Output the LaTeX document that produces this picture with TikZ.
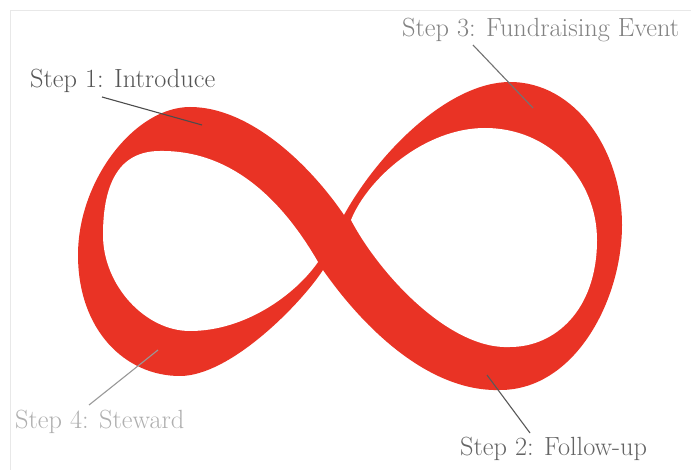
\documentclass[tikz,border=0pt]{standalone}
\usepackage{fontspec}
\setmainfont{Latin Modern Roman}
\definecolor{ribbon}{RGB}{233,51,37}
\definecolor{framegray}{RGB}{232,232,232}
\definecolor{txtA}{RGB}{85,85,85}
\definecolor{txtB}{RGB}{130,130,130}
\definecolor{txtC}{RGB}{175,175,175}
\definecolor{txtD}{RGB}{100,100,100}
\begin{document}
\begin{tikzpicture}[x=1pt,y=-1pt,
  lbl/.style={font=\fontsize{26.3}{30}\selectfont, anchor=base west, inner sep=0pt},
  lead/.style={line width=1.1pt}]
\useasboundingbox (0,0) rectangle (691,470);
\fill[white] (0,0) rectangle (691,470);
\draw[framegray, line width=0.9pt] (10,470) -- (10,10) -- (691,10);
% ribbon silhouette
\fill[ribbon] (344,215)
  .. controls (310,165) and (250,107) .. (190,107)
  .. controls (135,107) and (78,180) .. (78,255)
  .. controls (78,330) and (125,376) .. (180,376)
  .. controls (230,376) and (300,305) .. (323,270)
  .. controls (365,330) and (430,392) .. (500,390)
  .. controls (575,390) and (622,300) .. (622,225)
  .. controls (622,150) and (575,82) .. (510,82)
  .. controls (450,82) and (380,150) .. (344,215) -- cycle;
% holes
\fill[white] (318,262)
  .. controls (285,205) and (235,150) .. (160,151)
  .. controls (120,151) and (103,182) .. (103,235)
  .. controls (103,285) and (145,331) .. (190,331)
  .. controls (245,331) and (295,295) .. (318,262) -- cycle;
\fill[white] (351,220)
  .. controls (368,178) and (425,128) .. (485,128)
  .. controls (550,128) and (597,180) .. (597,240)
  .. controls (597,310) and (555,347) .. (510,347)
  .. controls (450,350) and (380,275) .. (351,220) -- cycle;
% labels
\node[lbl, text=txtA] (s1) at (30,88) {Step 1: Introduce};
\node[lbl, text=txtB] (s3) at (402,37) {Step 3: Fundraising Event};
\node[lbl, text=txtC] (s4) at (15,428) {Step 4: Steward};
\node[lbl, text=txtD] (s2) at (460,455) {Step 2: Follow-up};
% leader ends
\coordinate (s1a) at (102,97);  \coordinate (s1b) at (202,125);
\coordinate (s3a) at (473,45);  \coordinate (s3b) at (533,108);
\coordinate (s4a) at (89,405);  \coordinate (s4b) at (158,350);
\coordinate (s2a) at (530,433); \coordinate (s2b) at (487,375);
\draw[lead, draw=black!70] (s1a) -- (s1b);
\draw[lead, draw=black!55] (s3a) -- (s3b);
\draw[lead, draw=black!40] (s4a) -- (s4b);
\draw[lead, draw=black!65] (s2a) -- (s2b);
\end{tikzpicture}
\end{document}
